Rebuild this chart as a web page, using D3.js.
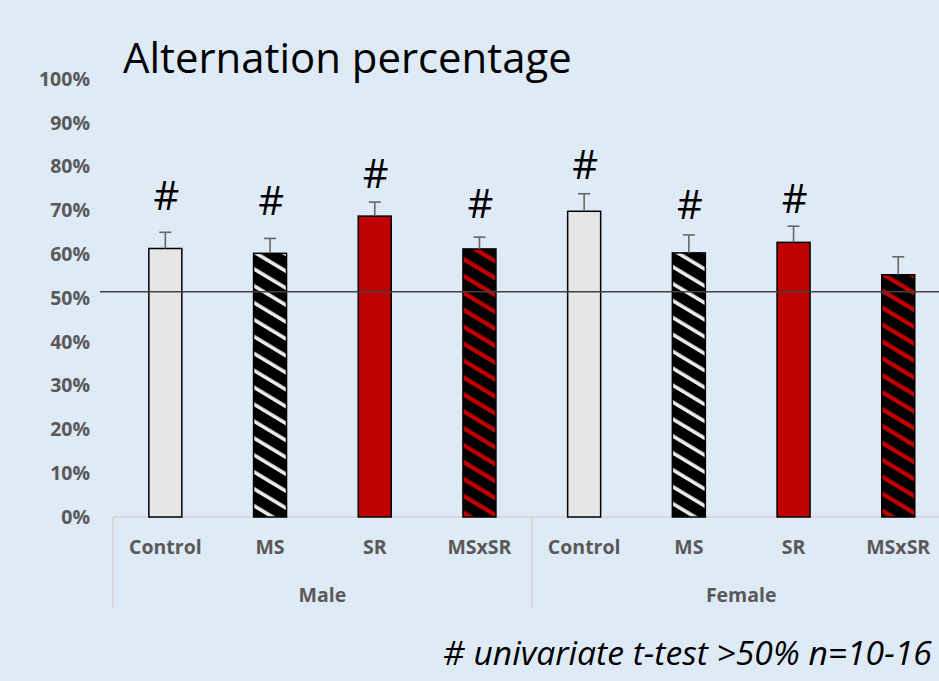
<!DOCTYPE html>
<html>
<head>
<meta charset="utf-8">
<script src="https://cdn.jsdelivr.net/npm/d3@7"></script>
<style>
  html, body { margin: 0; padding: 0; background: #deeaf6; }
  svg { display: block; }
</style>
</head>
<body>
<svg width="939" height="681"></svg>
<script>
// categories and groups
const categories = ["Control", "MS", "SR", "MSxSR"];
const groups = ["Male", "Female"];

// mean alternation (fraction) and SEM
const maleMeans = [0.613, 0.602, 0.687, 0.612];
const maleErr = [0.037, 0.034, 0.032, 0.027];
const femaleMeans = [0.698, 0.603, 0.627, 0.553];
const femaleErr = [0.040, 0.041, 0.037, 0.041];

// where the "#" marks sit (value level of glyph bottom), null = none
const maleHash = [0.701, 0.689, 0.751, 0.683];
const femaleHash = [0.771, 0.680, 0.694, null];

const yTicks = [0, 0.1, 0.2, 0.3, 0.4, 0.5, 0.6, 0.7, 0.8, 0.9, 1.0];
const refLine = 0.514;

var svg = d3.select("svg"),
    width = +svg.attr("width"),
    height = +svg.attr("height");

var rows = [];
groups.forEach(function(g, gi) {
  var means = gi === 0 ? maleMeans : femaleMeans;
  var errs = gi === 0 ? maleErr : femaleErr;
  var hashes = gi === 0 ? maleHash : femaleHash;
  categories.forEach(function(c, ci) {
    rows.push({ key: g + "-" + c, group: g, cat: c, ci: ci,
      value: means[ci], err: errs[ci], hash: hashes[ci] });
  });
});

var fills = ["#e7e6e6", "url(#hatchWhite)", "#c00000", "url(#hatchRed)"];

var x = d3.scaleBand()
    .domain(rows.map(function(d) { return d.key; }))
    .range([113, 950.6])
    .paddingInner(0.685)
    .paddingOuter(0.3425);

var xg = d3.scaleBand()
    .domain(groups)
    .range(x.range());

var y = d3.scaleLinear()
    .domain([0, 1])
    .range([517, 79]);

// hatch patterns
var defs = svg.append("defs");
function hatch(id, stripe) {
  var p = defs.append("pattern")
      .attr("id", id)
      .attr("patternUnits", "userSpaceOnUse")
      .attr("width", 14.5)
      .attr("height", 14.5)
      .attr("patternTransform", "rotate(-59)");
  p.append("rect").attr("width", 14.5).attr("height", 14.5).attr("fill", "#000");
  p.append("rect").attr("width", stripe.w).attr("height", 14.5).attr("fill", stripe.c);
}
hatch("hatchWhite", { c: "#ececec", w: 3.6 });
hatch("hatchRed", { c: "#c00000", w: 4.4 });

// title
var title = svg.append("text")
    .attr("x", 123)
    .attr("y", 73)
    .attr("font-family", "Open Sans")
    .attr("font-size", 40)
    .attr("fill", "#000")
    .text("Alternation percentage");
var tw = title.node().getComputedTextLength();
title.attr("font-size", 40 * 449 / tw);

// y axis labels
var yAxis = svg.append("g")
    .attr("transform", "translate(93,0)")
    .call(d3.axisLeft(y)
      .tickValues(yTicks)
      .tickSize(0)
      .tickPadding(3)
      .tickFormat(d3.format(".0%")));
yAxis.select(".domain").remove();
yAxis.selectAll("text")
    .attr("font-family", "Open Sans")
    .attr("font-size", 19.5)
    .attr("font-weight", "bold")
    .attr("fill", "#595959");

// category axis lines
var axisG = svg.append("g").attr("class", "cat-axis");
axisG.append("line")
    .attr("x1", x.range()[0]).attr("x2", width)
    .attr("y1", y(0)).attr("y2", y(0))
    .attr("stroke", "#d4d4d4").attr("stroke-width", 1.5);
axisG.selectAll(".div")
  .data(groups)
  .enter().append("line")
    .attr("class", "div")
    .attr("x1", function(d) { return xg(d); })
    .attr("x2", function(d) { return xg(d); })
    .attr("y1", y(0)).attr("y2", 609)
    .attr("stroke", "#d4d4d4").attr("stroke-width", 1.5);

// bars
svg.append("g")
  .selectAll("rect")
  .data(rows)
  .enter().append("rect")
    .attr("x", function(d) { return x(d.key); })
    .attr("y", function(d) { return y(d.value); })
    .attr("width", x.bandwidth())
    .attr("height", function(d) { return y(0) - y(d.value); })
    .attr("fill", function(d) { return fills[d.ci]; })
    .attr("stroke", "#000")
    .attr("stroke-width", 1.5);

// reference line
svg.append("line")
    .attr("x1", 100).attr("x2", width)
    .attr("y1", y(refLine)).attr("y2", y(refLine))
    .attr("stroke", "#404040")
    .attr("stroke-width", 1.5);

// error bars (upper only)
var eb = svg.append("g")
  .selectAll("g")
  .data(rows)
  .enter().append("g")
    .attr("stroke", "#666")
    .attr("stroke-width", 1.6);
eb.append("line")
    .attr("x1", function(d) { return x(d.key) + x.bandwidth() / 2; })
    .attr("x2", function(d) { return x(d.key) + x.bandwidth() / 2; })
    .attr("y1", function(d) { return y(d.value); })
    .attr("y2", function(d) { return y(d.value + d.err); });
eb.append("line")
    .attr("x1", function(d) { return x(d.key) + x.bandwidth() / 2 - 6; })
    .attr("x2", function(d) { return x(d.key) + x.bandwidth() / 2 + 6; })
    .attr("y1", function(d) { return y(d.value + d.err); })
    .attr("y2", function(d) { return y(d.value + d.err); });

// significance marks
svg.append("g")
  .selectAll("text")
  .data(rows.filter(function(d) { return d.hash != null; }))
  .enter().append("text")
    .attr("x", function(d) { return x(d.key) + x.bandwidth() / 2 + 1; })
    .attr("y", function(d) { return y(d.hash); })
    .attr("text-anchor", "middle")
    .attr("font-family", "Open Sans")
    .attr("font-size", 40)
    .attr("fill", "#000")
    .text("#");

// category labels
svg.append("g")
  .selectAll("text")
  .data(rows)
  .enter().append("text")
    .attr("x", function(d) { return x(d.key) + x.bandwidth() / 2; })
    .attr("y", 554)
    .attr("text-anchor", "middle")
    .attr("font-family", "Open Sans")
    .attr("font-size", 19.5)
    .attr("font-weight", "bold")
    .attr("fill", "#595959")
    .text(function(d) { return d.cat; });

// group labels, centred on their visible part
svg.append("g")
  .selectAll("text")
  .data(groups)
  .enter().append("text")
    .attr("x", function(d) {
      var a = xg(d), b = Math.min(xg(d) + xg.bandwidth(), width);
      return d === groups[0] ? a + xg.bandwidth() / 2 : a + xg.bandwidth() / 2;
    })
    .attr("y", 602)
    .attr("text-anchor", "middle")
    .attr("font-family", "Open Sans")
    .attr("font-size", 19.5)
    .attr("font-weight", "bold")
    .attr("fill", "#595959")
    .text(function(d) { return d; });

// footnote
var note = svg.append("text")
    .attr("x", 443)
    .attr("y", 665)
    .attr("font-family", "Open Sans")
    .attr("font-style", "italic")
    .attr("font-size", 26)
    .attr("fill", "#000")
    .text("# univariate t-test >50% n=10-16");
var nw = note.node().getComputedTextLength();
note.attr("font-size", 26 * 489 / nw);
</script>
</body>
</html>
